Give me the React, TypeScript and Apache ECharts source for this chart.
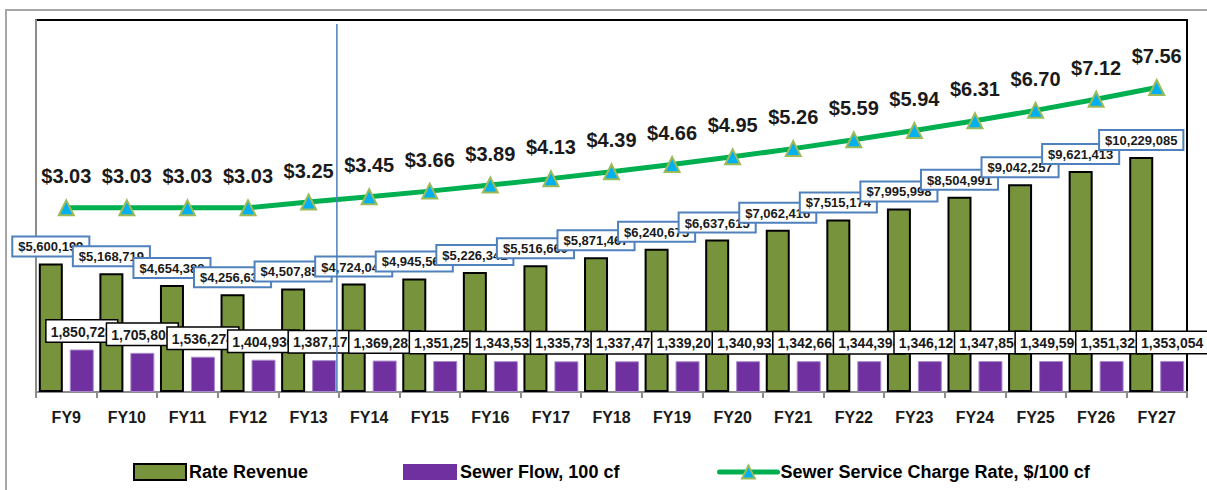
import React, { useEffect, useRef } from "react";
import * as echarts from "echarts";

const categories = ["FY9","FY10","FY11","FY12","FY13","FY14","FY15","FY16","FY17","FY18","FY19","FY20","FY21","FY22","FY23","FY24","FY25","FY26","FY27"];
const rateRevenue = [5600199,5168719,4654388,4256631,4507853,4724047,4945562,5226341,5516660,5871467,6240675,6637615,7062416,7515174,7995998,8504991,9042257,9621413,10229085];
const sewerFlow = [1850728,1705805,1536274,1404936,1387179,1369282,1351257,1343533,1335739,1337470,1339201,1340932,1342663,1344394,1346125,1347856,1349590,1351322,1353054];
const chargeRate = [3.03,3.03,3.03,3.03,3.25,3.45,3.66,3.89,4.13,4.39,4.66,4.95,5.26,5.59,5.94,6.31,6.70,7.12,7.56];
const seriesNames = ["Rate Revenue", "Sewer Flow, 100 cf", "Sewer Service Charge Rate, $/100 cf"];

const FONT = "'Liberation Sans', Arial, sans-serif";

const fmt = (v: number) => v.toLocaleString("en-US");

export default function App() {
  const ref = useRef<HTMLDivElement>(null);
  useEffect(() => {
    if (!ref.current) return;
    const chart = echarts.init(ref.current, null, { renderer: "svg" });
    const legendBase = {
      top: 458,
      itemHeight: 16,
      textStyle: { fontFamily: FONT, fontWeight: "bold", fontSize: 18, color: "#000", padding: [0, 0, 0, -2] },
    };
    chart.setOption({
      animation: false,
      backgroundColor: "#fff",
      grid: { left: 36, top: 20, width: 1151, height: 372, show: true, borderColor: "#000", borderWidth: 2, backgroundColor: "#fff" },
      legend: [
        { ...legendBase, data: [{ name: seriesNames[0], icon: "rect" }], left: 128, itemWidth: 52 },
        { ...legendBase, data: [{ name: seriesNames[1], icon: "rect", itemStyle: { borderWidth: 0 } }], left: 398, itemWidth: 54 },
        {
          ...legendBase, data: [seriesNames[2]], left: 712, itemWidth: 58,
          lineStyle: { width: 5, color: "#00B050", cap: "round" },
        },
      ],
      xAxis: {
        type: "category",
        data: categories,
        axisLine: { show: true, lineStyle: { color: "#8c8c8c", width: 2 } },
        axisTick: { show: true, length: 6, lineStyle: { color: "#8c8c8c", width: 2 } },
        axisLabel: { margin: 17, fontFamily: FONT, fontWeight: "bold", fontSize: 16, color: "#1a1a1a" },
      },
      yAxis: [
        {
          type: "value", min: 0, max: 16200000,
          axisLine: { show: true, lineStyle: { color: "#8c8c8c", width: 2 } },
          axisTick: { show: false }, axisLabel: { show: false }, splitLine: { show: false },
        },
        {
          type: "value", min: -3.9, max: 10.1, position: "right",
          axisLine: { show: false }, axisTick: { show: false }, axisLabel: { show: false }, splitLine: { show: false },
        },
      ],
      series: [
        {
          name: seriesNames[0], type: "bar", data: rateRevenue, barWidth: 24, barGap: "29%",
          itemStyle: { color: "#77933C", borderColor: "#000", borderWidth: 2 },
          label: {
            show: true, position: "top", distance: 8,
            formatter: (p: any) => "$" + fmt(p.value),
            fontFamily: FONT, fontWeight: "bold", fontSize: 13, color: "#1a1a1a",
            backgroundColor: "#fff", borderColor: "#4F81BD", borderWidth: 2, padding: [3, 5, 2, 5],
          },
          z: 2,
        },
        {
          name: seriesNames[1], type: "bar", data: sewerFlow, barWidth: 24,
          itemStyle: { color: "#7030A0", borderColor: "#A88ACB", borderWidth: 1 },
          label: {
            show: true, position: "top", distance: 8,
            formatter: (p: any) => fmt(p.value),
            fontFamily: FONT, fontWeight: "bold", fontSize: 14, color: "#1a1a1a",
            backgroundColor: "#fff", borderColor: "#000", borderWidth: 1.5, padding: [4, 4, 3, 4],
          },
          z: 2,
        },
        {
          name: seriesNames[2], type: "line", yAxisIndex: 1, data: chargeRate,
          symbol: "triangle", symbolSize: 15,
          lineStyle: { color: "#00B050", width: 5 },
          itemStyle: { color: "#00B0F0", borderColor: "#9BBB59", borderWidth: 2 },
          label: {
            show: true, position: "top", distance: 13,
            formatter: (p: any) => "$" + p.value.toFixed(2),
            fontFamily: FONT, fontWeight: "bold", fontSize: 20, color: "#1a1a1a",
          },
          z: 3,
        },
      ],
    });
    const x13 = chart.convertToPixel({ xAxisIndex: 0 }, "FY13") as number;
    const x14 = chart.convertToPixel({ xAxisIndex: 0 }, "FY14") as number;
    const xv = (x13 + x14) / 2 - 2;
    chart.setOption({
      graphic: [
        { type: "rect", shape: { x: 6, y: 10, width: 1220, height: 500 }, style: { fill: "none", stroke: "#a6a6a6", lineWidth: 2 }, z: 0, silent: true },
        { type: "line", shape: { x1: xv, y1: 24, x2: xv, y2: 392 }, style: { stroke: "#4A7EBB", lineWidth: 1.5 }, z: 100, silent: true },
      ],
    });
    return () => chart.dispose();
  }, []);
  return <div ref={ref} style={{ position: "absolute", left: 0, top: 0, width: 1207, height: 490 }} />;
}
